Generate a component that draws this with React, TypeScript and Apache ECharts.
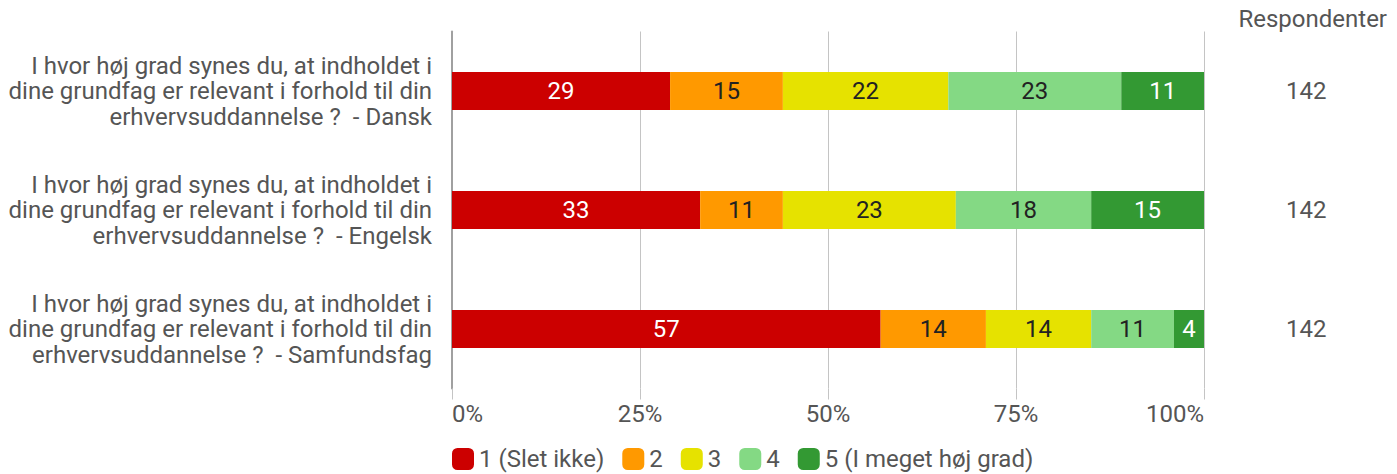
import React, { useEffect, useRef } from "react";
import * as echarts from "echarts";

const categories = [
  "I hvor høj grad synes du, at indholdet i\ndine grundfag er relevant i forhold til din\nerhvervsuddannelse ?  - Dansk",
  "I hvor høj grad synes du, at indholdet i\ndine grundfag er relevant i forhold til din\nerhvervsuddannelse ?  - Engelsk",
  "I hvor høj grad synes du, at indholdet i\ndine grundfag er relevant i forhold til din\nerhvervsuddannelse ?  - Samfundsfag",
];
const respondents = ["142", "142", "142"];
const seriesNames = ["1 (Slet ikke)", "2", "3", "4", "5 (I meget høj grad)"];
const s1 = [29, 33, 57];
const s2 = [15, 11, 14];
const s3 = [22, 23, 14];
const s4 = [23, 18, 11];
const s5 = [11, 15, 4];
const seriesValues = [s1, s2, s3, s4, s5];
const colors = ["#cc0000", "#ff9900", "#e6e200", "#84d984", "#339933"];
const labelColors = ["#ffffff", "#222222", "#222222", "#222222", "#ffffff"];
const xTicks = { min: 0, max: 100, interval: 25 };

const FONT = "Roboto";
const FS = 24;

export default function App() {
  const ref = useRef<HTMLDivElement>(null);
  useEffect(() => {
    if (!ref.current) return;
    const chart = echarts.init(ref.current, null, { renderer: "svg" });
    chart.setOption({
      animation: false,
      textStyle: { fontFamily: FONT },
      title: {
        text: "Respondenter",
        right: 5,
        top: 2,
        textStyle: { fontFamily: FONT, fontSize: FS, fontWeight: "normal", color: "#555555" },
      },
      legend: {
        data: seriesNames,
        left: 447,
        top: 442,
        itemWidth: 22,
        itemHeight: 22,
        itemGap: 18,
        icon: "roundRect",
        textStyle: { fontFamily: FONT, fontSize: FS, color: "#555555" },
      },
      grid: { left: 452, right: 193, top: 31.5, bottom: 85.5, containLabel: false },
      xAxis: {
        type: "value",
        min: xTicks.min,
        max: xTicks.max,
        interval: xTicks.interval,
        axisLine: { show: false },
        axisTick: { show: true, length: 11, lineStyle: { color: "#c4c4c4" } },
        splitLine: { show: true, lineStyle: { color: "#c4c4c4", width: 1 } },
        axisLabel: {
          formatter: "{value}%",
          fontFamily: FONT,
          fontSize: FS,
          color: "#555555",
          margin: 13,
          alignMinLabel: "left",
          alignMaxLabel: "right",
        },
      },
      yAxis: [
        {
          type: "category",
          data: categories,
          inverse: true,
          axisLine: { show: true, lineStyle: { color: "#a0a0a0", width: 2 } },
          axisTick: { show: false },
          axisLabel: {
            fontFamily: FONT,
            fontSize: FS,
            lineHeight: 25.5,
            color: "#555555",
            margin: 20,
            align: "right",
          },
        },
        {
          type: "category",
          data: respondents,
          inverse: true,
          position: "right",
          axisLine: { show: false },
          axisTick: { show: false },
          axisLabel: {
            fontFamily: FONT,
            fontSize: FS,
            color: "#555555",
            margin: 82,
          },
        },
      ],
      series: seriesValues.map((vals, i) => ({
        name: seriesNames[i],
        type: "bar",
        stack: "total",
        yAxisIndex: 0,
        barWidth: 38,
        data: vals,
        itemStyle: { color: colors[i] },
        label: {
          show: true,
          position: "inside",
          fontFamily: FONT,
          fontSize: FS,
          color: labelColors[i],
        },
      })),
    });
    return () => chart.dispose();
  }, []);
  return (
    <div
      ref={ref}
      style={{ position: "absolute", left: 0, top: 0, width: 1397, height: 474 }}
    />
  );
}
